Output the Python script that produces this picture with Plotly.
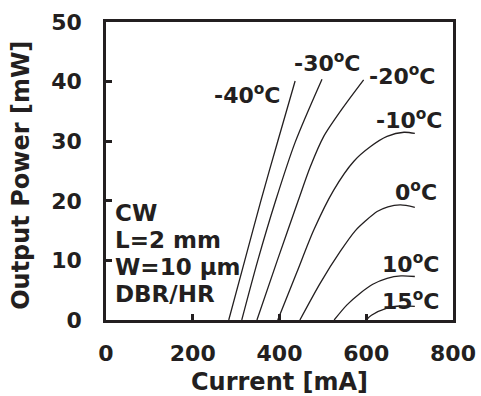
import plotly.graph_objects as go

temps = ["-40", "-30", "-20", "-10", "0", "10", "15"]
currents = {
    "-40": [283, 320, 357, 396, 436],
    "-30": [313, 350, 391, 436, 498],
    "-20": [348, 395, 443, 471, 502, 548, 594],
    "-10": [396, 440, 479, 525, 571, 610, 648, 687, 712],
    "0": [447, 494, 540, 575, 598, 625, 650, 679, 712],
    "10": [526, 555, 586, 615, 648, 680, 712],
    "15": [600, 612, 648, 680, 712],
}
powers = {
    "-40": [0, 10, 20, 30, 40.1],
    "-30": [0, 10, 20, 29.8, 40.4],
    "-20": [0, 10, 20, 25.7, 30.8, 35.8, 40.3],
    "-10": [0, 8, 15.1, 21.8, 26.6, 29.1, 30.8, 31.5, 31.3],
    "0": [0, 6.2, 11.5, 15.0, 16.6, 18.2, 19.0, 19.3, 18.9],
    "10": [0, 2.5, 4.5, 6.0, 7.0, 7.4, 7.3],
    "15": [0, 0.8, 2.0, 2.35, 2.3],
}
label_x = [326, 510, 682, 698, 715, 702, 702]
label_y = [37.9, 43.3, 41.1, 33.7, 21.6, 9.5, 3.4]
info_lines = ["CW", "L=2 mm", "W=10 μm", "DBR/HR"]
info_x = 16
info_y = [17.9, 13.4, 8.9, 4.4]
x_title = "Current [mA]"
y_title = "Output Power [mW]"

FONT = "DejaVu Sans"
COLOR = "#231f20"

fig = go.Figure()
for t in temps:
    fig.add_trace(go.Scatter(
        x=currents[t], y=powers[t], mode="lines",
        line=dict(color=COLOR, width=1.3, shape="spline", smoothing=0.8),
        showlegend=False, hoverinfo="skip"))

for t, lx, ly in zip(temps, label_x, label_y):
    fig.add_annotation(x=lx, y=ly, text="<b>" + t + "<sup>o</sup>C</b>",
                       showarrow=False, xanchor="center", yanchor="middle",
                       font=dict(family=FONT, size=22, color=COLOR))

for line, iy in zip(info_lines, info_y):
    fig.add_annotation(x=info_x, y=iy, text="<b>" + line + "</b>",
                       showarrow=False, xanchor="left", yanchor="middle", align="left",
                       font=dict(family=FONT, size=23, color=COLOR))

# axis titles
fig.add_annotation(x=0.501, y=-0.208, xref="paper", yref="paper",
                   text="<b>" + x_title + "</b>", showarrow=False,
                   xanchor="center", yanchor="middle",
                   font=dict(family=FONT, size=24, color=COLOR))
fig.add_annotation(x=-0.245, y=0.487, xref="paper", yref="paper",
                   text="<b>" + y_title + "</b>", showarrow=False, textangle=-90,
                   xanchor="center", yanchor="middle",
                   font=dict(family=FONT, size=24, color=COLOR))

axis_common = dict(
    showline=True, linewidth=2.5, linecolor=COLOR, mirror=True,
    ticks="inside", ticklen=6, tickwidth=2.5, tickcolor=COLOR,
    showgrid=False, zeroline=False, automargin=False,
    tickfont=dict(family=FONT, size=22, color=COLOR),
)

fig.update_layout(
    width=481, height=396,
    margin=dict(l=106, r=28, t=22, b=76),
    paper_bgcolor="white", plot_bgcolor="white",
    font=dict(family=FONT, color=COLOR),
    xaxis=dict(range=[0, 800], dtick=200, tick0=0, ticklabelstandoff=12,
               **axis_common),
    yaxis=dict(range=[0, 50], dtick=10, tick0=0, ticklabelstandoff=17,
               **axis_common),
)
fig.update_xaxes(tickprefix="<b>", ticksuffix="</b>")
fig.update_yaxes(tickprefix="<b>", ticksuffix="</b>")

fig.write_html("out.html")
